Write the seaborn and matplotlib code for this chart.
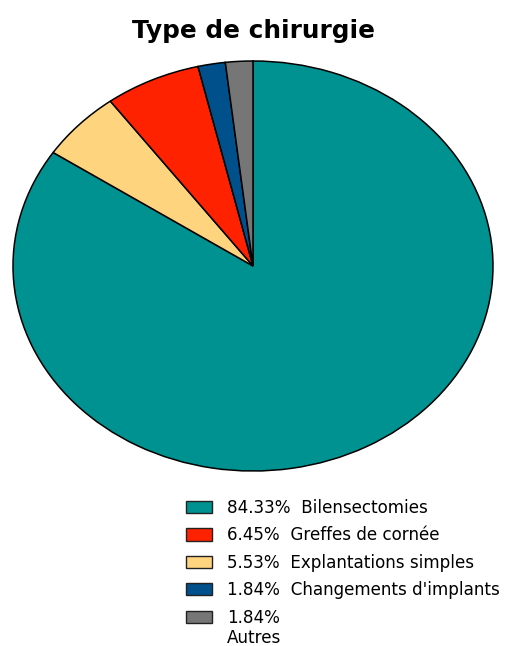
import matplotlib
matplotlib.use("Agg")
import matplotlib.pyplot as plt
from matplotlib.patches import Patch, Rectangle
from matplotlib.legend_handler import HandlerPatch
import seaborn as sns

sns.set_theme(style="white")
plt.rcParams["font.family"] = ["DejaVu Sans"]

# Surgery types (legend order) and their shares in percent
categories = ["Bilensectomies", "Greffes de cornée", "Explantations simples",
              "Changements d'implants", "Autres"]
shares = [84.33, 6.45, 5.53, 1.84, 1.84]
colors = sns.color_palette(["#009191", "#FF2200", "#FFD47F", "#00508C", "#767676"])

# Slices run clockwise from the top in this order
pie_order = [0, 2, 1, 3, 4]

W, H = 509, 646
fig = plt.figure(figsize=(W / 100, H / 100), dpi=100)
fig.patch.set_facecolor("white")

# Pie area: stretched horizontally into an ellipse
ax = fig.add_axes([13 / W, (H - 471) / H, 480 / W, 410 / H])
ax.pie([shares[i] for i in pie_order],
       colors=[colors[i] for i in pie_order],
       startangle=90, counterclock=False, radius=1,
       wedgeprops=dict(edgecolor="black", linewidth=1.1))
ax.set_aspect("auto")
ax.set_xlim(-1.0, 1.0)
ax.set_ylim(-1.0, 1.0)
ax.axis("off")

fig.text(254 / W, 1 - 31 / H, "Type de chirurgie", ha="center", va="center",
         fontsize=17.8, fontweight="bold", color="black")


def top_aligned_patch(legend, orig_handle, xdescent, ydescent, width, height, fontsize):
    # keep the swatch level with the first line of a two-line label
    return Rectangle((-xdescent, -ydescent + 0.72 * fontsize), width, height)


labels = [f"{v:.2f}%  {c}" for v, c in zip(shares, categories)]
labels[-1] = f"{shares[-1]:.2f}%\n{categories[-1]}"
handles = [Patch(facecolor=colors[i], edgecolor="#222222", linewidth=1.0)
           for i in range(len(categories))]
fig.legend(handles, labels, loc="upper left",
           bbox_to_anchor=(186 / W, 1 - 499 / H), frameon=False,
           fontsize=12.1, borderpad=0, borderaxespad=0,
           handlelength=1.55, handleheight=0.74, handletextpad=0.88,
           labelspacing=0.56, labelcolor="black",
           handler_map={handles[-1]: HandlerPatch(patch_func=top_aligned_patch)})

fig.savefig("out.png", dpi=100, facecolor="white")
